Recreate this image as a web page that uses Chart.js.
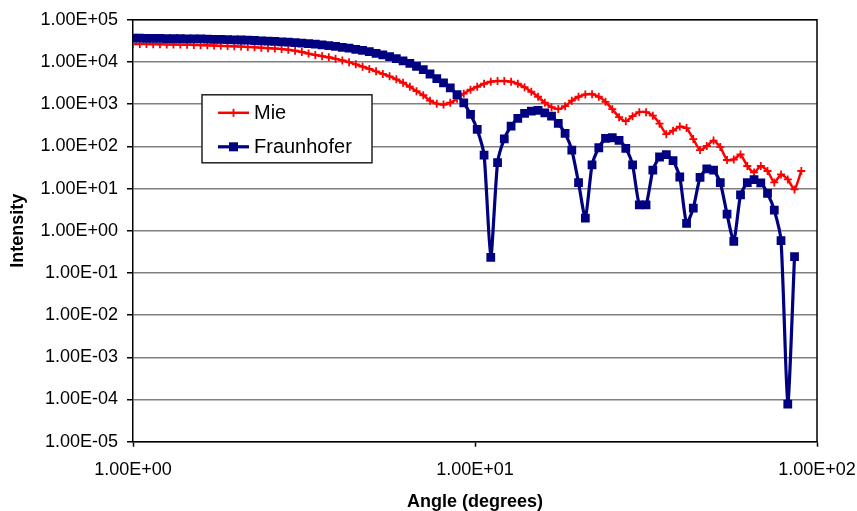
<!DOCTYPE html>
<html>
<head>
<meta charset="utf-8">
<title>Mie vs Fraunhofer</title>
<script src="https://cdn.jsdelivr.net/npm/chart.js@4.4.1/dist/chart.umd.min.js"></script>
<style>
  html, body { margin: 0; padding: 0; background: #fff; }
  canvas { display: block; }
</style>
</head>
<body>
<canvas id="chart" width="857" height="511"></canvas>
<script>
// scattering angle, degrees
var angles = [
  1.000, 1.047, 1.095, 1.146, 1.199, 1.255, 1.313, 1.375, 1.439, 1.506,
  1.576, 1.649, 1.726, 1.806, 1.890, 1.978, 2.070, 2.166, 2.267, 2.372,
  2.482, 2.598, 2.719, 2.845, 2.978, 3.116, 3.261, 3.412, 3.571, 3.737,
  3.911, 4.093, 4.283, 4.482, 4.691, 4.909, 5.137, 5.376, 5.626, 5.888,
  6.161, 6.448, 6.745, 7.059, 7.387, 7.731, 8.090, 8.467, 8.860, 9.272,
  9.703, 10.15, 10.63, 11.12, 11.64, 12.18, 12.75, 13.34, 13.96, 14.61,
  15.29, 16.00, 16.74, 17.52, 18.34, 19.19, 20.08, 21.02, 21.99, 23.01,
  24.08, 25.20, 26.38, 27.60, 28.89, 30.23, 31.63, 33.11, 34.64, 36.26,
  37.94, 39.70, 41.55, 43.48, 45.50, 47.62, 49.83, 52.15, 54.57, 57.11,
  59.76, 62.54, 65.45, 68.49, 71.67, 75.01, 78.49, 82.14, 85.96, 89.97
];

var mie = [
  26800, 26700, 26600, 26400, 26300, 26100, 26000, 25800, 25600, 25300,
  25100, 24800, 24600, 24200, 23900, 23600, 23200, 22800, 22300, 21800,
  21300, 20800, 20200, 19600, 18500, 17300, 15800, 14700, 13700, 12900,
  11900, 10900, 9910, 8800, 7760, 6850, 6010, 5220, 4580, 3890,
  3220, 2590, 2030, 1630, 1210, 1030, 983, 1080, 1350, 1770,
  2200, 2590, 3050, 3400, 3530, 3530, 3400, 3050, 2520, 1970,
  1500, 1080, 848, 769, 896, 1210, 1500, 1700, 1720, 1500,
  1140, 761, 493, 396, 520, 647, 647, 535, 346, 195,
  236, 294, 271, 149, 81.9, 102, 137, 96.4, 47.5, 48.8,
  64.1, 34.3, 24.1, 34.3, 26.1, 14.0, 21.6, 16.5, 9.55, 26.1
];

var fraunhofer = [
  36700, 36600, 36500, 36300, 36200, 36000, 35900, 35700, 35500, 35300,
  35100, 34800, 34500, 34200, 33900, 33600, 33200, 32800, 32300, 31800,
  31300, 30800, 30100, 29500, 28800, 28000, 27200, 26400, 25400, 24500,
  23400, 22300, 21200, 20000, 18800, 17500, 16100, 14800, 13400, 12000,
  10600, 9230, 7910, 6590, 5190, 4040, 3180, 2430, 1690, 1070,
  570, 252, 62.4, 0.234, 41.0, 151, 302, 459, 603, 683,
  709, 622, 520, 350, 203, 81.8, 13.8, 2.00, 36.2, 92.7,
  155, 160, 139, 89.8, 36.2, 4.11, 4.11, 27.2, 56.0, 64.1,
  46.2, 18.8, 1.49, 3.44, 18.3, 29.1, 27.2, 13.8, 2.48, 0.558,
  7.08, 13.8, 16.3, 13.6, 7.69, 3.08, 0.580, 0.0000776, 0.243
];

var xTicks = [1, 10, 100];
var yTicks = [1e-5, 1e-4, 1e-3, 1e-2, 1e-1, 1, 1e1, 1e2, 1e3, 1e4, 1e5];

var FONT = '"Liberation Sans", Arial, sans-serif';

// 1.00E+05 style labels
function sci(v) {
  var e = Math.floor(Math.log10(v) + 1e-9);
  var m = v / Math.pow(10, e);
  var a = Math.abs(e);
  return m.toFixed(2) + 'E' + (e < 0 ? '-' : '+') + (a < 10 ? '0' : '') + a;
}

function points(ys) {
  return ys.map(function(y, i) {
    return { x: angles[i], y: y };
  });
}

// top and right edges of the plot box
var frame = {
  id: 'frame',
  beforeDatasetsDraw: function(chart) {
    var a = chart.chartArea, ctx = chart.ctx;
    ctx.save();
    ctx.strokeStyle = '#000';
    ctx.lineWidth = 1.5;
    ctx.beginPath();
    ctx.moveTo(a.left, a.top);
    ctx.lineTo(a.right, a.top);
    ctx.lineTo(a.right, a.bottom);
    ctx.stroke();
    ctx.restore();
  }
};

// boxed legend sitting inside the plot
var legendBox = {
  id: 'legendBox',
  afterDraw: function(chart) {
    var ctx = chart.ctx, a = chart.chartArea;
    var x = a.left + 69, y = a.top + 75, w = 170, h = 68;
    ctx.save();
    ctx.fillStyle = '#fff';
    ctx.fillRect(x, y, w, h);
    ctx.strokeStyle = '#222';
    ctx.lineWidth = 1.5;
    ctx.strokeRect(x, y, w, h);
    ctx.font = '20px ' + FONT;
    ctx.textBaseline = 'middle';
    chart.data.datasets.forEach(function(ds, i) {
      var cy = y + 18 + i * 34,
        x0 = x + 16,
        x1 = x + 47,
        cx = (x0 + x1) / 2;
      ctx.strokeStyle = ds.borderColor;
      ctx.lineWidth = ds.borderWidth;
      ctx.beginPath();
      ctx.moveTo(x0, cy);
      ctx.lineTo(x1, cy);
      ctx.stroke();
      if (ds.pointStyle === 'rect') {
        ctx.fillStyle = ds.pointBackgroundColor;
        ctx.fillRect(cx - 4.5, cy - 4.5, 9, 9);
      } else {
        ctx.lineWidth = ds.pointBorderWidth;
        ctx.beginPath();
        ctx.moveTo(cx, cy - 4);
        ctx.lineTo(cx, cy + 4);
        ctx.stroke();
      }
      ctx.fillStyle = '#000';
      ctx.fillText(ds.label, x + 52, cy + 1);
    });
    ctx.restore();
  }
};

var chart = new Chart(document.getElementById('chart').getContext('2d'), {
  type: 'line',
  data: {
    datasets: [{
      label: 'Mie',
      data: points(mie),
      borderColor: '#ff0000',
      borderWidth: 2.5,
      tension: 0.2,
      pointStyle: 'cross',
      pointRadius: 4,
      pointBorderWidth: 1.8,
      pointBorderColor: '#ff0000',
      pointBackgroundColor: '#ff0000',
      order: 1
    }, {
      label: 'Fraunhofer',
      data: points(fraunhofer),
      borderColor: '#000080',
      borderWidth: 3.2,
      tension: 0.2,
      pointStyle: 'rect',
      pointRadius: 6.2,
      pointBorderWidth: 0,
      pointBorderColor: '#000080',
      pointBackgroundColor: '#000080',
      order: 0
    }]
  },
  options: {
    responsive: false,
    animation: false,
    events: [],
    layout: { padding: { top: 18, right: 40, left: 0, bottom: 0 } },
    plugins: {
      legend: { display: false },
      tooltip: { enabled: false }
    },
    scales: {
      x: {
        type: 'logarithmic',
        min: 1,
        max: 100,
        afterBuildTicks: function(scale) {
          scale.ticks = xTicks.map(function(v) { return { value: v }; });
        },
        afterFit: function(scale) {
          scale.height = 69.3;
          scale.paddingLeft = 0;
          scale.paddingRight = 0;
        },
        ticks: {
          autoSkip: false,
          maxRotation: 0,
          padding: 13,
          color: '#000',
          font: { family: FONT, size: 18 },
          callback: function(v) { return sci(v); }
        },
        grid: {
          drawOnChartArea: false,
          drawTicks: true,
          tickLength: 5,
          tickColor: '#000',
          tickWidth: 1.5
        },
        border: { color: '#000', width: 1.5 },
        title: {
          display: true,
          text: 'Angle (degrees)',
          color: '#000',
          padding: { top: 0, bottom: 0 },
          font: { family: FONT, size: 18, weight: 'bold', lineHeight: 1 }
        }
      },
      y: {
        type: 'logarithmic',
        min: 1e-5,
        max: 1e5,
        afterBuildTicks: function(scale) {
          scale.ticks = yTicks.map(function(v) { return { value: v }; });
        },
        afterFit: function(scale) { scale.width = 133; },
        ticks: {
          autoSkip: false,
          padding: 9,
          color: '#000',
          font: { family: FONT, size: 18 },
          callback: function(v) { return sci(v); }
        },
        grid: {
          color: '#808080',
          lineWidth: 1.5,
          drawTicks: true,
          tickLength: 6,
          tickColor: '#000',
          tickWidth: 1.5
        },
        border: { color: '#000', width: 1.5 },
        title: {
          display: true,
          text: 'Intensity',
          color: '#000',
          padding: { top: 9, bottom: 0 },
          font: { family: FONT, size: 18, weight: 'bold', lineHeight: 1 }
        }
      }
    }
  },
  plugins: [frame, legendBox]
});
</script>
</body>
</html>
